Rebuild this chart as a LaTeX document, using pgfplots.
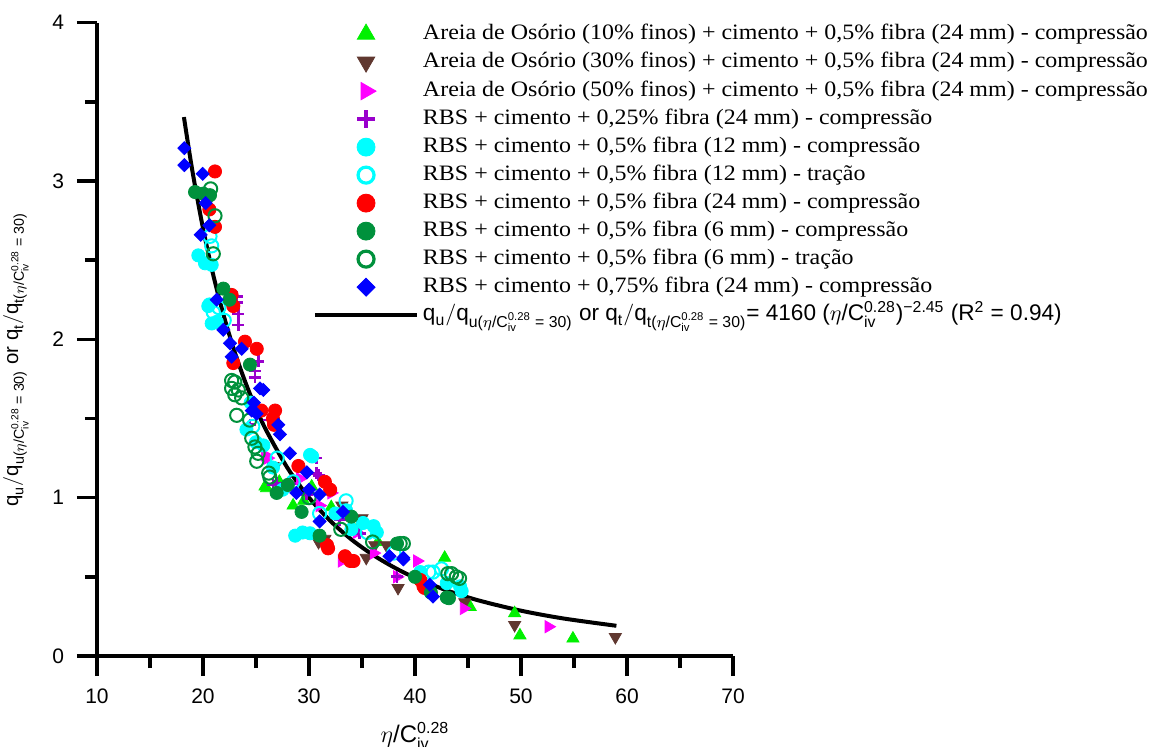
\documentclass[border=0pt]{standalone}
\usepackage{amsmath}
\usepackage{fontspec}
\setmainfont{Liberation Serif}
\setsansfont{Liberation Sans}
\newfontfamily\legserif{Liberation Serif}[FakeStretch=1.09]
\usepackage{pgfplots}
\pgfplotsset{compat=1.18}
\definecolor{cLime}{RGB}{0,240,0}
\definecolor{cBrown}{RGB}{96,56,48}
\definecolor{cMag}{RGB}{255,0,255}
\definecolor{cPurp}{RGB}{153,0,204}
\definecolor{cCyan}{RGB}{0,255,255}
\definecolor{cRed}{RGB}{255,0,0}
\definecolor{cDGreen}{RGB}{0,145,60}
\definecolor{cBlue}{RGB}{0,0,255}
\newcommand{\qq}[1]{$\text{q}_{\text{#1}}/\text{q}_{\text{#1(}\eta\text{/C}^{\text{0.28}}_{\text{iv}}\text{ = 30)}}$}
\begin{document}
\begin{tikzpicture}
\begin{axis}[
 scale only axis, width=318pt, height=316.7pt,
 xmin=10, xmax=70, ymin=0, ymax=4,
 axis x line=bottom, axis y line=left,
 axis line style={-, line width=1.8pt},
 xtick={10,20,...,70}, ytick={0,1,2,3,4},
 minor xtick={15,25,...,65}, minor ytick={0.5,1.5,2.5,3.5},
 tick align=outside,
 major tick length=10pt, minor tick length=6pt,
 every tick/.append style={black, line width=1.8pt},
 tick label style={font=\sffamily\fontsize{10.5}{12}\selectfont},
 /pgf/number format/assume math mode=true,
 xticklabel style={yshift=-3pt}, yticklabel style={xshift=-3pt},
 xlabel={\sffamily\fontsize{12}{14}\selectfont$\eta$/C$^{\text{0.28}}_{\text{iv}}$},
 xlabel style={at={(axis description cs:0.5,-0.136)}, anchor=base},
 ylabel={\sffamily\fontsize{10.2}{12}\selectfont\qq{u} or \qq{t}},
 ylabel style={at={(axis description cs:-0.124,0.468)}, anchor=base},
 clip=false,
 legend cell align=left,
 legend style={at={(axis description cs:0.3396,0.9976)}, anchor=north west,
   draw=none, fill=none, inner sep=0pt, outer sep=0pt, row sep=5pt, column sep=2pt,
   font=\legserif\fontsize{11}{13}\selectfont,
   nodes={inner sep=0pt, text height=7pt, text depth=2pt}},
]
\coordinate (O) at (rel axis cs:0,0);
% Areia 10% finos
\addplot[only marks, forget plot, mark=triangle*, mark size=3.5pt, color=cLime] coordinates {
(25.85,1.07) (26.0,1.06) (27.2,1.10) (28.5,0.95) (29.5,0.98) (30.25,1.07) (32.1,0.94) (34.5,0.80) (36.5,0.72) (42.8,0.62) (45.2,0.31) (49.4,0.27) (49.9,0.13) (54.9,0.11)};
% Areia 30% finos
\addplot[only marks, forget plot, mark=triangle*, mark size=3.5pt, mark options={rotate=180}, color=cBrown] coordinates {
(26.6,1.20) (26.8,1.195) (30.9,0.72) (31.5,0.74) (33.1,0.95) (35.0,0.87) (35.4,0.62) (36.2,0.70) (37.3,0.70) (38.4,0.43) (44.7,0.34) (49.4,0.196) (58.9,0.12)};
% Areia 50% finos
\addplot[only marks, forget plot, mark=triangle*, mark size=3.5pt, mark options={rotate=-90}, color=cMag] coordinates {
(25.85,1.27) (26.1,1.25) (29.15,1.12) (31.0,0.95) (32.1,1.03) (33.1,0.60) (34.5,0.78) (36.1,0.65) (38.3,0.50) (40.2,0.60) (44.6,0.30) (52.6,0.185)};
% RBS 0.25% 24mm
\addplot[only marks, forget plot, mark=+, mark size=3pt, mark options={line width=1.4pt}, color=cPurp] coordinates {
(23.18,2.27) (23.2,2.23) (23.33,2.16) (23.33,2.09) (25.22,1.86) (24.9,1.80) (24.9,1.76) (24.43,1.46) (26.2,1.49) (30.7,1.25) (30.7,1.155) (30.9,1.14) (26.95,1.09) (28.2,1.09) (26.6,1.08) (29.8,1.02) (32.9,0.86) (34.8,0.775) (31.5,0.73) (38.3,0.50)};
% RBS 0.5% 12mm compressao
\addplot[only marks, forget plot, mark=*, mark size=3.3pt, color=cCyan] coordinates {
(19.56,2.53) (20.19,2.48) (20.82,2.47) (20.5,2.21) (20.6,2.22) (20.82,2.10) (21.3,2.11) (24.5,1.6) (24.1,1.43) (25.0,1.35) (25.7,1.33) (30.1,1.27) (30.3,1.26) (26.6,1.19) (27.5,1.05) (28.7,0.76) (29.4,0.78) (30.1,0.775) (32.5,0.90) (33.5,0.92) (34.0,0.80) (35.1,0.84) (36.1,0.82) (36.4,0.78) (40.5,0.53) (43.0,0.46) (44.25,0.44) (44.4,0.41)};
% RBS 0.5% 12mm tracao
\addplot[only marks, forget plot, mark=o, mark size=3.3pt, mark options={line width=1pt}, color=cCyan] coordinates {
(20.66,2.65) (20.82,2.59) (20.97,2.17) (21.5,2.2) (22.0,2.12) (24.7,1.45) (27.0,1.25) (28.5,1.1) (31.0,0.90) (33.5,0.98) (35.5,0.78) (38.0,0.65) (41.3,0.53) (41.7,0.53) (42.5,0.55)};
% RBS 0.5% 24mm
\addplot[only marks, forget plot, mark=*, mark size=3.3pt, color=cRed] coordinates {
(21.13,3.06) (20.6,2.82) (21.13,2.71) (22.7,2.28) (22.86,2.21) (23.96,1.985) (25.07,1.94) (22.86,1.85) (25.5,1.55) (26.8,1.55) (26.6,1.50) (26.7,1.46) (29.0,1.20) (31.5,1.10) (32.0,1.05) (31.7,0.70) (31.8,0.68) (33.4,0.63) (33.9,0.60) (34.2,0.60) (40.5,0.48) (40.9,0.43) (40.8,0.44)};
% RBS 0.5% 6mm compressao
\addplot[only marks, forget plot, mark=*, mark size=3.3pt, color=cDGreen] coordinates {
(19.25,2.93) (20.03,2.92) (20.66,2.91) (21.92,2.32) (22.5,2.25) (24.43,1.84) (26.95,1.03) (28.0,1.08) (29.3,0.91) (31.0,0.76) (34.0,0.88) (38.3,0.71) (40.0,0.50) (41.5,0.40) (43.0,0.37) (43.2,0.365)};
% RBS 0.5% 6mm tracao
\addplot[only marks, forget plot, mark=o, mark size=3.3pt, mark options={line width=1pt}, color=cDGreen] coordinates {
(20.72,2.95) (21.13,2.78) (20.97,2.54) (23.0,1.73) (23.33,1.68) (23.65,1.63) (23.18,1.52) (22.7,1.74) (22.7,1.69) (24.6,1.375) (24.9,1.32) (25.07,1.23) (26.2,1.155) (25.2,1.28) (23.0,1.65) (24.4,1.49) (26.3,1.13) (30.0,1.0) (33.0,0.80) (36.0,0.72) (38.6,0.71) (38.9,0.71) (43.1,0.52) (43.45,0.52) (43.9,0.50) (44.2,0.49)};
% RBS 0.75% 24mm
\addplot[only marks, forget plot, mark=square*, mark size=2.3pt, mark options={rotate=45}, color=cBlue] coordinates {
(18.24,3.207) (18.24,3.10) (19.97,3.045) (20.25,2.86) (20.6,2.72) (19.78,2.66) (21.29,2.25) (21.92,2.06) (22.55,1.975) (23.65,1.94) (22.7,1.89) (25.38,1.69) (25.69,1.68) (24.8,1.6) (24.6,1.55) (25.06,1.53) (27.1,1.46) (27.26,1.40) (28.2,1.28) (29.8,1.16) (30.0,1.05) (28.8,1.03) (31.0,1.02) (33.2,0.91) (31.0,0.85) (37.6,0.63) (38.9,0.61) (38.9,0.62) (41.4,0.45) (41.7,0.375)};
% fitted curve
\addplot[black, line width=2pt, smooth, forget plot] coordinates {
(18.2,3.4035) (19,3.0629) (20,2.7013) (21,2.3969) (22,2.1387) (23,1.9181) (24,1.7282) (25,1.5636) (26,1.4204) (28,1.1846) (30,1.0003) (32,0.8540) (34,0.7362) (36,0.6400) (38,0.5606) (40,0.4944) (43,0.4141) (46,0.3510) (50,0.2862) (54,0.2370) (59,0.1908)};
% legend images
\addlegendimage{only marks, mark=triangle*, mark size=5pt, color=cLime}
\addlegendimage{only marks, mark=triangle*, mark size=5pt, mark options={rotate=180}, color=cBrown}
\addlegendimage{only marks, mark=triangle*, mark size=5pt, mark options={rotate=-90}, color=cMag}
\addlegendimage{only marks, mark=+, mark size=4.5pt, mark options={line width=2pt}, color=cPurp}
\addlegendimage{only marks, mark=*, mark size=4.5pt, color=cCyan}
\addlegendimage{only marks, mark=o, mark size=4pt, mark options={line width=1.6pt}, color=cCyan}
\addlegendimage{only marks, mark=*, mark size=4.5pt, color=cRed}
\addlegendimage{only marks, mark=*, mark size=4.5pt, color=cDGreen}
\addlegendimage{only marks, mark=o, mark size=4pt, mark options={line width=1.6pt}, color=cDGreen}
\addlegendimage{only marks, mark=square*, mark size=3.2pt, mark options={rotate=45}, color=cBlue}
\addlegendimage{legend image code/.code={\draw[black, line width=2pt, line cap=butt] (-17pt,0pt) -- (34pt,0pt);}}
\legend{
{Areia de Osório (10\% finos) + cimento + 0,5\% fibra (24 mm) - compressão},
{Areia de Osório (30\% finos) + cimento + 0,5\% fibra (24 mm) - compressão},
{Areia de Osório (50\% finos) + cimento + 0,5\% fibra (24 mm) - compressão},
{RBS + cimento + 0,25\% fibra (24 mm) - compressão},
{RBS + cimento + 0,5\% fibra (12 mm) - compressão},
{RBS + cimento + 0,5\% fibra (12 mm) - tração},
{RBS + cimento + 0,5\% fibra (24 mm) - compressão},
{RBS + cimento + 0,5\% fibra (6 mm) - compressão},
{RBS + cimento + 0,5\% fibra (6 mm) - tração},
{RBS + cimento + 0,75\% fibra (24 mm) - compressão},
{\sffamily\fontsize{11.3}{13}\selectfont\qq{u} or \qq{t}= 4160 ($\eta$/C$^{\text{0.28}}_{\text{iv}}$)$^{\text{−2.45}}$ (R$^{\text{2}}$ = 0.94)}
}
\end{axis}
\pgfresetboundingbox
\path[use as bounding box] ([xshift=-48.5pt,yshift=-45pt]O) rectangle ++(576pt,373pt);
\end{tikzpicture}
\end{document}
